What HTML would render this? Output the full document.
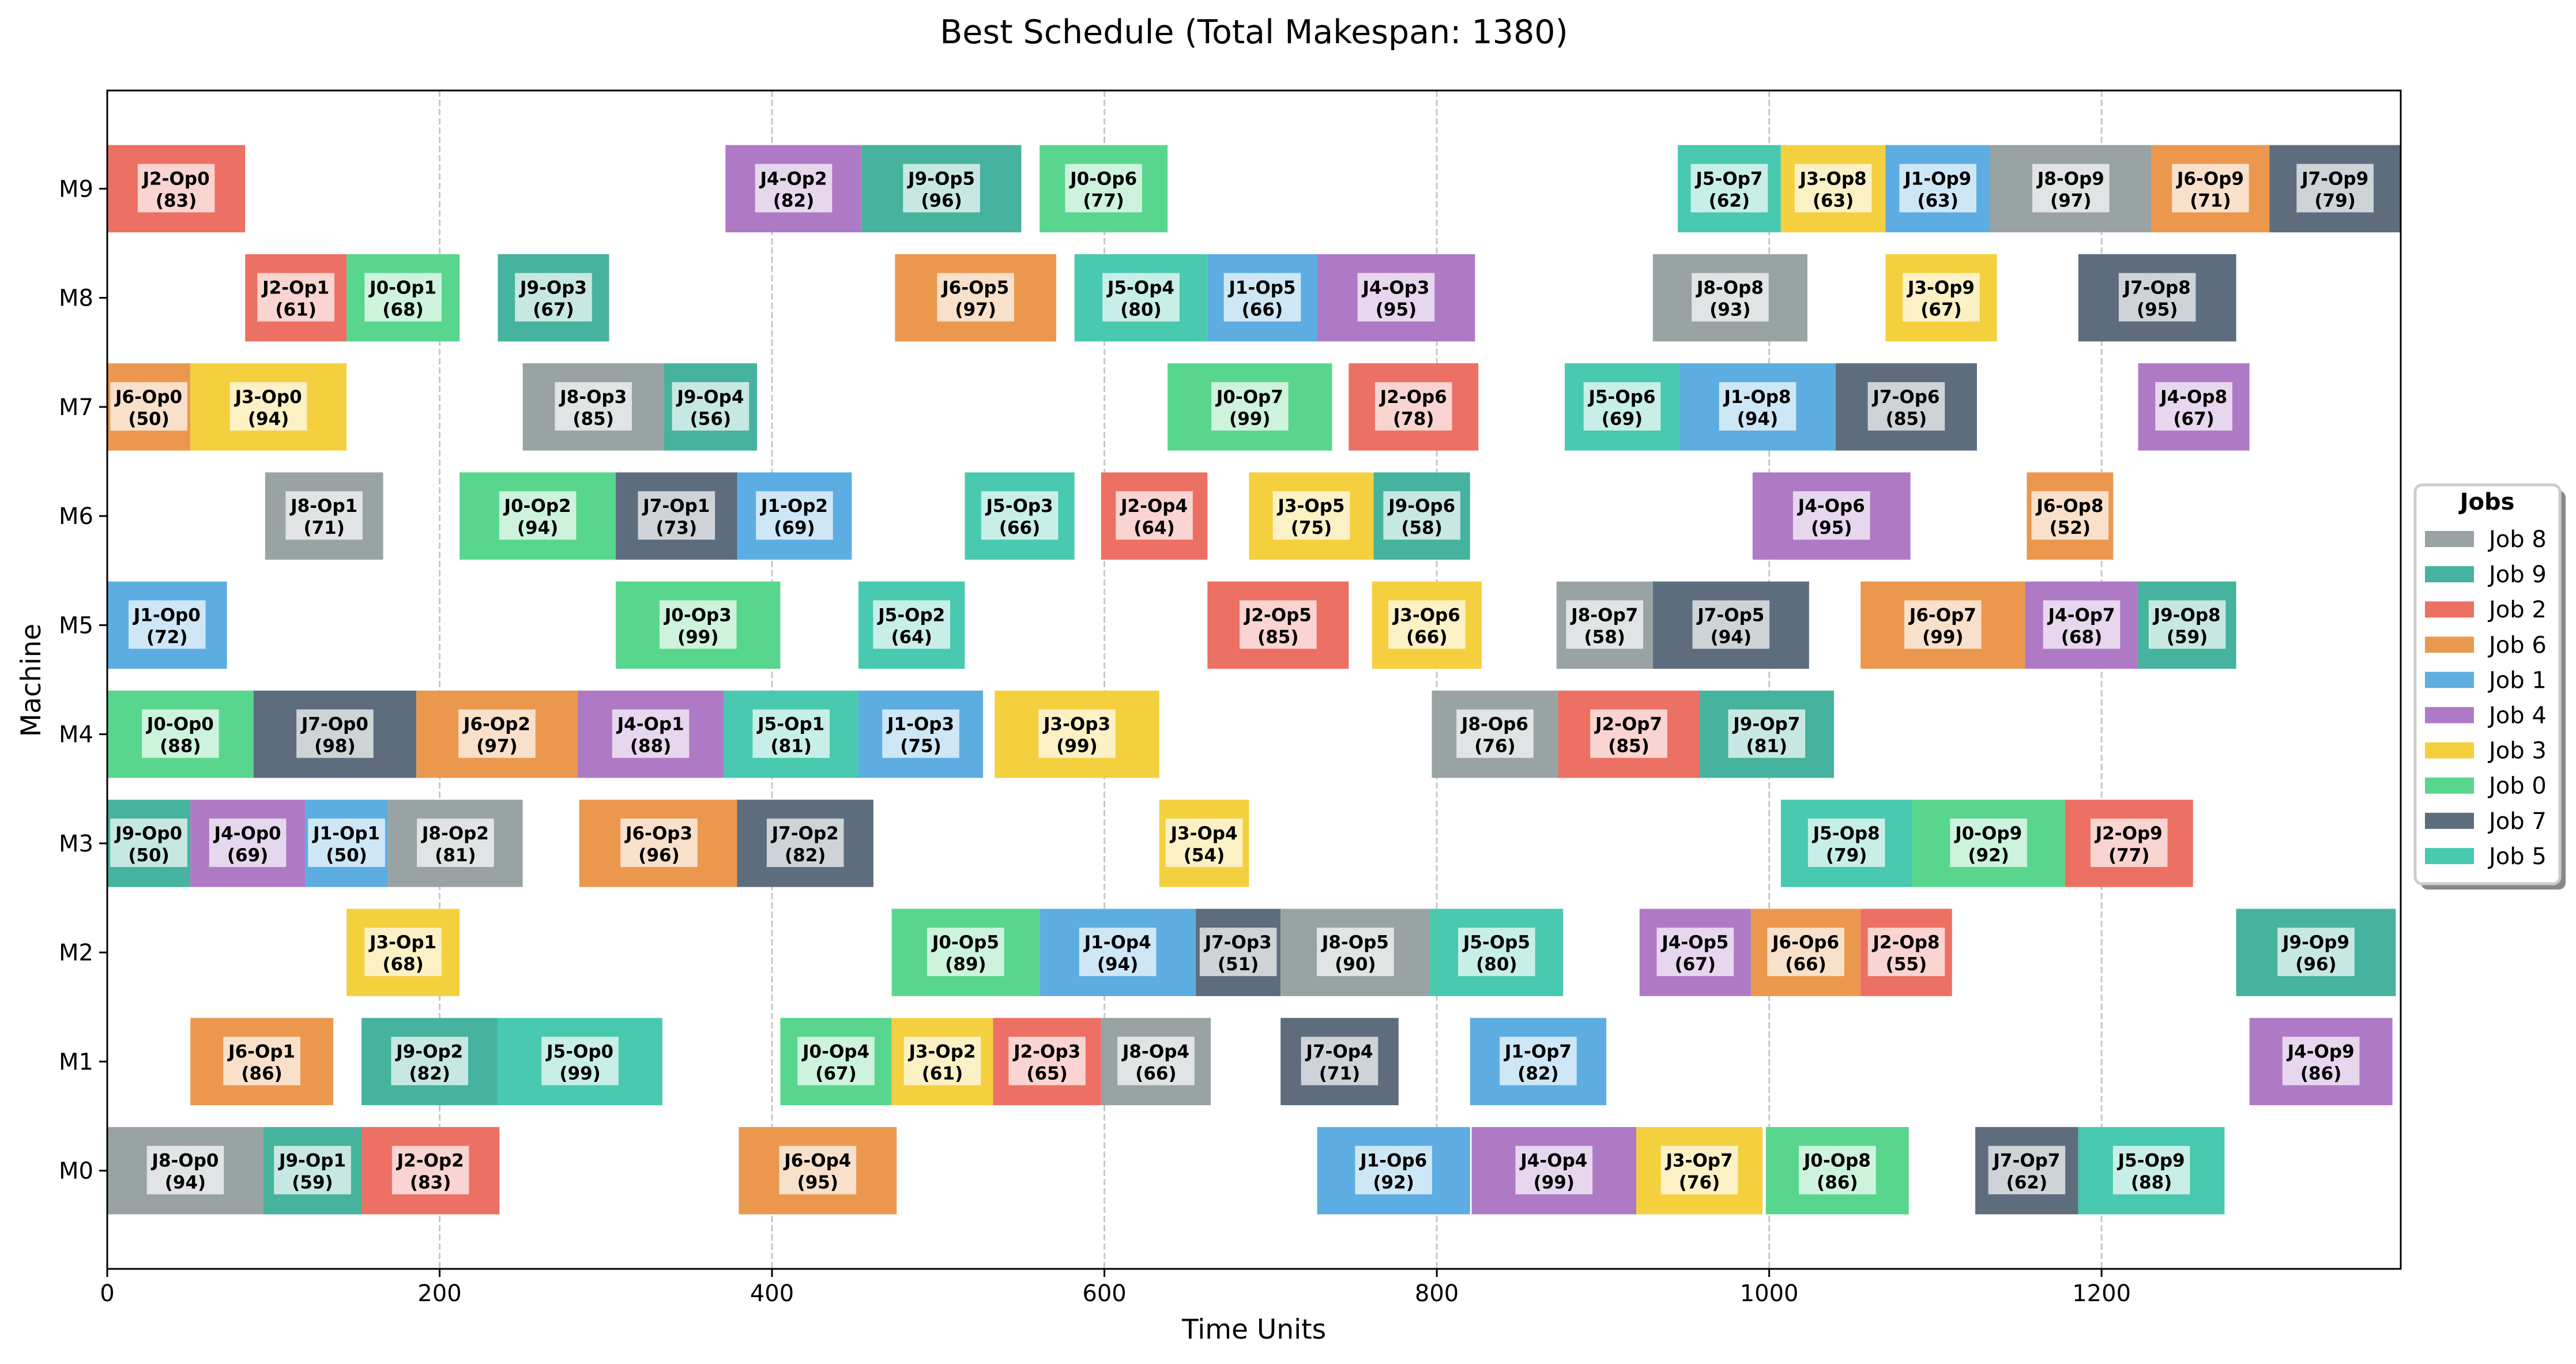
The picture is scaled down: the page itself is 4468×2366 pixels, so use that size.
<!DOCTYPE html>
<html><head><meta charset="utf-8"><style>
html,body{margin:0;padding:0;background:#fff;}
svg{display:block;font-family:"DejaVu Sans","Liberation Sans",sans-serif;}
</style></head><body>
<svg id="chart" xmlns="http://www.w3.org/2000/svg" width="4468" height="2366" viewBox="0 0 4468 2366">
<rect x="0" y="0" width="4468" height="2366" fill="#fff"/>
<text x="2175" y="75" font-size="57" text-anchor="middle">Best Schedule (Total Makespan: 1380)</text>
<g id="grid"></g>
<g id="bars"></g>
<g id="axes"></g>
<text x="2175" y="2322" font-size="47" text-anchor="middle">Time Units</text>
<text transform="translate(70,1180) rotate(-90)" font-size="47" text-anchor="middle">Machine</text>
<g id="legend"></g>
</svg>
<script>
const machines = [0,0,0,0,0,0,0,0,0,0, 1,1,1,1,1,1,1,1,1,1, 2,2,2,2,2,2,2,2,2,2, 3,3,3,3,3,3,3,3,3,3, 4,4,4,4,4,4,4,4,4,4, 5,5,5,5,5,5,5,5,5,5, 6,6,6,6,6,6,6,6,6,6, 7,7,7,7,7,7,7,7,7,7, 8,8,8,8,8,8,8,8,8,8, 9,9,9,9,9,9,9,9,9,9];
const jobs =     [8,9,2,6,1,4,3,0,7,5, 6,9,5,0,3,2,8,7,1,4, 3,0,1,7,8,5,4,6,2,9, 9,4,1,8,6,7,3,5,0,2, 0,7,6,4,5,1,3,8,2,9, 1,0,5,2,3,8,7,6,4,9, 8,0,7,1,5,2,3,9,4,6, 6,3,8,9,0,2,5,1,7,4, 2,0,9,6,5,1,4,8,3,7, 2,4,9,0,5,3,1,8,6,7];
const ops =      [0,1,2,4,6,4,7,8,7,9, 1,2,0,4,2,3,4,4,7,9, 1,5,4,3,5,5,5,6,8,9, 0,0,1,2,3,2,4,8,9,9, 0,0,2,1,1,3,3,6,7,7, 0,3,2,5,6,7,5,7,7,8, 1,2,1,2,3,4,5,6,6,8, 0,0,3,4,7,6,6,8,6,8, 1,1,3,5,4,5,3,8,9,8, 0,2,5,6,7,8,9,9,9,9];
const starts =   [0,94,153,380,728,821,920,998,1124,1186, 50,153,235,405,472,533,598,706,820,1289, 144,472,561,655,706,796,922,989,1055,1281, 0,50,119,169,284,379,633,1007,1086,1178, 0,88,186,283,371,452,534,797,873,958, 0,306,452,662,761,872,930,1055,1154,1222, 95,212,306,379,516,598,687,762,990,1155, 0,50,250,335,638,747,877,946,1040,1222, 83,144,235,474,582,662,728,930,1070,1186, 0,372,454,561,945,1007,1070,1133,1230,1301];
const durations =[94,59,83,95,92,99,76,86,62,88, 86,82,99,67,61,65,66,71,82,86, 68,89,94,51,90,80,67,66,55,96, 50,69,50,81,96,82,54,79,92,77, 88,98,97,88,81,75,99,76,85,81, 72,99,64,85,66,58,94,99,68,59, 71,94,73,69,66,64,75,58,95,52, 50,94,85,56,99,78,69,94,85,67, 61,68,67,97,80,66,95,93,67,95, 83,82,96,77,62,63,63,97,71,79];
const xTicks = [0,200,400,600,800,1000,1200];
const machineLabels = ["M0","M1","M2","M3","M4","M5","M6","M7","M8","M9"];
const legendJobs = [8,9,2,6,1,4,3,0,7,5];
const jobColors = {0:"#58d68d",1:"#5dade2",2:"#ec7063",3:"#f4d03f",4:"#af7ac5",5:"#48c9b0",6:"#eb984e",7:"#5d6d7e",8:"#99a3a4",9:"#45b39d"};

const NS="http://www.w3.org/2000/svg";
const L=186, R=4164, T=157, B=2201;
const X0=0, X1=1380, Y0=-0.9, Y1=9.9;
function xs(v){return L+(v-X0)/(X1-X0)*(R-L);}
function ys(v){return B-(v-Y0)/(Y1-Y0)*(B-T);}
function mk(tag,attrs,parent){const e=document.createElementNS(NS,tag);for(const k in attrs)e.setAttribute(k,attrs[k]);parent.appendChild(e);return e;}
const grid=document.getElementById('grid'), bars=document.getElementById('bars'), axes=document.getElementById('axes'), legend=document.getElementById('legend');
const step=(ys(0)-ys(1));
xTicks.forEach(t=>{
  if(t===0)return;
  const g=mk('line',{x1:xs(t),x2:xs(t),y1:T,y2:B,stroke:"#c8c8c8","stroke-width":3,"stroke-dasharray":"11,5"},grid);
  
  
});
for(let i=0;i<starts.length;i++){
  const yc=ys(machines[i]), h=step*0.8;
  const x=xs(starts[i]), w=xs(starts[i]+durations[i])-x;
  const g=mk('g',{},bars);
  
  
  mk('rect',{x:x,y:yc-h/2,width:w,height:h,fill:jobColors[jobs[i]]},g);
  const t1='J'+jobs[i]+'-Op'+ops[i], t2='('+durations[i]+')';
  const cx=x+w/2;
  const bw=t1.length*20.6+10;
  mk('rect',{x:cx-bw/2,y:yc-43,width:bw,height:84,fill:"#fff","fill-opacity":0.7},g);
  const a=mk('text',{x:cx,y:yc-7,"font-size":31,"font-weight":"bold","text-anchor":"middle"},g);a.textContent=t1;
  const b=mk('text',{x:cx,y:yc+31,"font-size":31,"font-weight":"bold","text-anchor":"middle"},g);b.textContent=t2;
}
const fr=mk('rect',{x:L,y:T,width:R-L,height:B-T,fill:"none",stroke:"#000","stroke-width":3},axes);


xTicks.forEach(t=>{
  mk('line',{x1:xs(t),x2:xs(t),y1:B,y2:B+14,stroke:"#000","stroke-width":3},axes);
  const tx=mk('text',{x:xs(t),y:B+56,"font-size":40,"text-anchor":"middle"},axes);
  tx.textContent=t;
  
  
});
machineLabels.forEach((m,i)=>{
  mk('line',{x1:L-14,x2:L,y1:ys(i),y2:ys(i),stroke:"#000","stroke-width":3},axes);
  const tx=mk('text',{x:L-24,y:ys(i)+14,"font-size":40,"text-anchor":"end"},axes);
  tx.textContent=m;
  
  
});
mk('rect',{x:4199,y:851,width:251,height:692,rx:12,fill:"#888"},legend);
mk('rect',{x:4189,y:841,width:251,height:692,rx:12,fill:"#fff",stroke:"#ccc","stroke-width":5},legend);
const lt=mk('text',{x:4314,y:884,"font-size":40,"font-weight":"bold","text-anchor":"middle"},legend);
lt.textContent="Jobs";


legendJobs.forEach((j,k)=>{
  const y=935+k*61.1;
  const g=mk('g',{},legend);
  
  
  mk('rect',{x:4206,y:y-14,width:85,height:28,fill:jobColors[j]},g);
  const tx=mk('text',{x:4317,y:y+14,"font-size":40},g);tx.textContent='Job '+j;
});
</script>
</body></html>
